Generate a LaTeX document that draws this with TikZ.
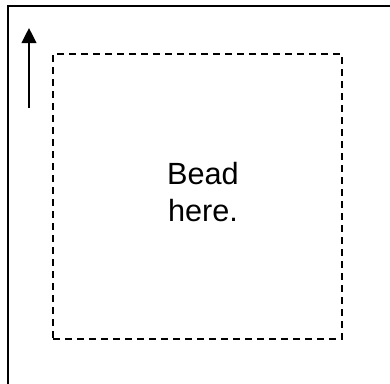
\documentclass[tikz,border=0pt]{standalone}
\usepackage{fontspec}
\setmainfont{Liberation Sans}
\usetikzlibrary{arrows.meta}
\begin{document}
\begin{tikzpicture}[x=0.75pt,y=-0.75pt,
  frame/.style={line width=1.7pt},
  dashbox/.style={draw,line width=1.7pt,dash pattern=on 5.5pt off 3.5pt,minimum width=216.75pt,minimum height=213.75pt,inner sep=0pt},
  arrowline/.style={line width=1.6pt,-{Triangle[length=11.25pt,width=11pt]}},
  label/.style={font=\fontsize{23pt}{27.75pt}\selectfont,align=center,inner sep=0pt}]
\useasboundingbox (0,0) rectangle (390,383);
\coordinate (fb) at (8,384);
\coordinate (fc) at (8,6);
\coordinate (fr) at (391,6);
\draw[frame] (fb) -- (fc) -- (fr);
\node[dashbox] (zone) at (197.5,196.5) {};
\node[label] (txt) at (203,192.5) {Bead\\here.};
\coordinate (a1) at (29,108);
\coordinate (a2) at (29,28);
\draw[arrowline] (a1) -- (a2);
\end{tikzpicture}
\end{document}
